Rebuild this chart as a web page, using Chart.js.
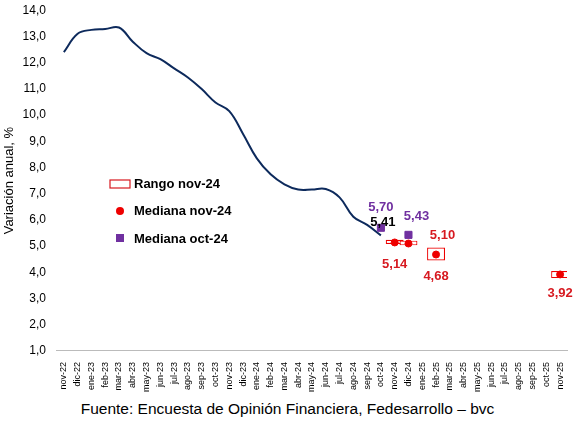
<!DOCTYPE html><html><head><meta charset="utf-8"><script src="https://cdn.jsdelivr.net/npm/chart.js@4"></script>
<style>body{margin:0;background:#fff;font-family:"Liberation Sans",Arial,sans-serif}#w{position:relative;width:575px;height:395px}#src{text-align:center;font-size:15.5px;color:#000;margin-top:5px}</style></head><body>
<div id="w"><canvas id="c" width="575" height="395" style="width:575px;height:395px"></canvas></div><div id="src">Fuente: Encuesta de Opinión Financiera, Fedesarrollo – bvc</div>
<script>
const categories=["nov-22","dic-22","ene-23","feb-23","mar-23","abr-23","may-23","jun-23","jul-23","ago-23","sep-23","oct-23","nov-23","dic-23","ene-24","feb-24","mar-24","abr-24","may-24","jun-24","jul-24","ago-24","sep-24","oct-24","nov-24","dic-24","ene-25","feb-25","mar-25","abr-25","may-25","jun-25","jul-25","ago-25","sep-25","oct-25","nov-25"];
const inflation=[12.4,13.1,13.25,13.28,13.34,12.8,12.36,12.13,11.78,11.43,10.99,10.48,10.15,9.28,8.35,7.74,7.36,7.16,7.16,7.18,6.86,6.12,5.81,5.41];
const medianNov=[null,null,null,null,null,null,null,null,null,null,null,null,null,null,null,null,null,null,null,null,null,null,null,null,5.14,5.10,null,4.68,null,null,null,null,null,null,null,null,3.92];
const medianOct=[null,null,null,null,null,null,null,null,null,null,null,null,null,null,null,null,null,null,null,null,null,null,null,5.70,null,5.43];
const rangeLow=[null,null,null,null,null,null,null,null,null,null,null,null,null,null,null,null,null,null,null,null,null,null,null,null,5.08,5.03,null,4.45,null,null,null,null,null,null,null,null,3.78];
const rangeHigh=[null,null,null,null,null,null,null,null,null,null,null,null,null,null,null,null,null,null,null,null,null,null,null,null,5.24,5.21,null,4.95,null,null,null,null,null,null,null,null,4.05];
const yTicks=[1,2,3,4,5,6,7,8,9,10,11,12,13,14];
const range=rangeLow.map((l,i)=>l==null?null:[l,rangeHigh[i]]);
const labels=[{ds:1,i:24,t:'5,14',c:'#d71920',dx:0,dy:22},{ds:1,i:25,t:'5,10',c:'#d71920',dx:34,dy:-8},{ds:1,i:27,t:'4,68',c:'#d71920',dx:0,dy:22},{ds:1,i:36,t:'3,92',c:'#d71920',dx:0,dy:19},
{ds:2,i:23,t:'5,70',c:'#7030a0',dx:0,dy:-20},{ds:2,i:25,t:'5,43',c:'#7030a0',dx:8,dy:-18},{ds:0,i:23,t:'5,41',c:'#000',dx:2,dy:-13}];
const lab={id:'lab',afterDatasetsDraw(ch){const x=ch.ctx;x.save();x.font='bold 13px "Liberation Sans",Arial';x.textAlign='center';x.textBaseline='middle';
labels.forEach(l=>{const e=ch.getDatasetMeta(l.ds).data[l.i];x.fillStyle=l.c;x.fillText(l.t,e.x+l.dx,e.y+l.dy);});
x.textAlign='left';
x.strokeStyle='#d71920';x.lineWidth=1.2;x.fillStyle='#fff';x.fillRect(110,180,20,8);x.strokeRect(110,180,20,8);
x.fillStyle='#000';x.fillText('Rango nov-24',134,184);
x.fillStyle='#e00';x.beginPath();x.arc(120,211,4,0,7);x.fill();x.fillStyle='#000';x.fillText('Mediana nov-24',134,211);
x.fillStyle='#7030a0';x.fillRect(116,234,8,8);x.fillStyle='#000';x.fillText('Mediana oct-24',134,239);
x.restore();}};
new Chart(document.getElementById('c'),{type:'bar',data:{labels:categories,datasets:[
{type:'line',data:inflation,borderColor:'#0d2a5c',borderWidth:2,pointRadius:0,tension:0.4,order:1},
{type:'line',data:medianNov,showLine:false,pointRadius:3.5,pointBackgroundColor:'#e00',pointBorderColor:'#e00',order:0},
{type:'line',data:medianOct,showLine:false,pointStyle:'rect',pointRadius:5,pointBackgroundColor:'#7030a0',pointBorderColor:'#7030a0',order:0},
{type:'bar',data:range,backgroundColor:'#fff',borderColor:'#e00',borderWidth:1.2,borderSkipped:false,barPercentage:1.3,categoryPercentage:1,order:2}]},
options:{responsive:false,animation:false,layout:{padding:{top:10,right:8}},plugins:{legend:{display:false},tooltip:{enabled:false}},
scales:{x:{grid:{display:false},border:{color:'#bbb'},ticks:{autoSkip:false,maxRotation:90,minRotation:90,font:{size:9,family:'Liberation Sans'},color:'#000'}},
y:{min:1,max:14,afterBuildTicks:a=>{a.ticks=yTicks.map(v=>({value:v}));},grid:{display:false},border:{display:false},ticks:{callback:v=>v.toFixed(1).replace('.',','),font:{size:12,family:'Liberation Sans'},color:'#000'},title:{display:true,text:'Variación anual, %',font:{size:13,family:'Liberation Sans'},color:'#000',padding:2}}}},
plugins:[lab]});
</script></body></html>
